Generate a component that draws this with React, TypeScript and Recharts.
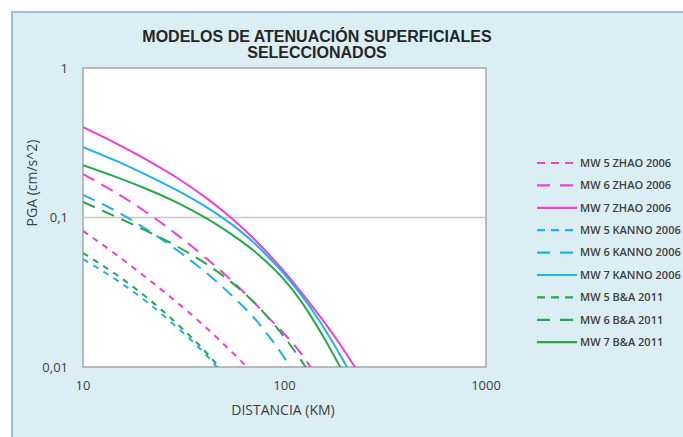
import React from "react";
import {
	Legend,
	Line,
	LineChart,
	ReferenceArea,
	ReferenceLine,
	XAxis,
	YAxis,
} from "recharts";

// distancias (km) compartidas por todas las curvas
const DIST = [10, 15, 20, 30, 40, 50, 60, 70, 80, 100, 120, 150, 200, 250];

// PGA (null = fuera del rango)
const ZHAO_5 = [0.0813, 0.055, 0.0408, 0.0263, 0.0188, 0.0142, 0.01117, 0.00898, null, null, null, null, null, null];
const ZHAO_6 = [0.195, 0.1429, 0.1114, 0.0748, 0.0547, 0.0422, 0.0336, 0.0274, 0.0226, 0.0166, 0.01245, 0.00794, null, null];
const ZHAO_7 = [0.4027, 0.3076, 0.2495, 0.1803, 0.138, 0.1094, 0.0883, 0.0726, 0.0604, 0.0432, 0.0321, 0.0218, 0.0126, 0.00785];
const KANNO_5 = [0.0527, 0.0374, 0.0283, 0.0179, 0.0124, 0.00881, null, null, null, null, null, null, null, null];
const KANNO_6 = [0.1416, 0.1081, 0.0857, 0.059, 0.0437, 0.0337, 0.0267, 0.0216, 0.0174, 0.0115, 0.00782, null, null, null];
const KANNO_7 = [0.2958, 0.2355, 0.1968, 0.1493, 0.1197, 0.0982, 0.0817, 0.0684, 0.0575, 0.0417, 0.0308, 0.0201, 0.0105, 0.006];
const BA_5 = [0.0579, 0.0405, 0.0303, 0.0189, 0.0129, 0.00916, null, null, null, null, null, null, null, null];
const BA_6 = [0.1271, 0.0993, 0.083, 0.063, 0.0499, 0.0404, 0.0331, 0.0273, 0.0226, 0.0158, 0.01125, 0.00702, null, null];
const BA_7 = [0.2239, 0.1841, 0.1581, 0.1239, 0.1005, 0.0836, 0.0706, 0.0603, 0.0515, 0.0381, 0.0279, 0.0174, 0.00867, null];

const X_TICKS = [10, 100, 1000];
const Y_TICKS = [0.01, 0.1, 1];

const MAGENTA = "#f23fd2";
const CYAN = "#1fb1ee";
const GREEN = "#26a84a";
const SHORT = "6 6";
const LONG = "13 8";

const SERIES = [
	{ key: "z5", name: "MW 5 ZHAO 2006", values: ZHAO_5, color: MAGENTA, dash: SHORT },
	{ key: "z6", name: "MW 6 ZHAO 2006", values: ZHAO_6, color: MAGENTA, dash: LONG },
	{ key: "z7", name: "MW 7 ZHAO 2006", values: ZHAO_7, color: MAGENTA, dash: undefined },
	{ key: "k5", name: "MW 5 KANNO 2006", values: KANNO_5, color: CYAN, dash: SHORT },
	{ key: "k6", name: "MW 6 KANNO 2006", values: KANNO_6, color: CYAN, dash: LONG },
	{ key: "k7", name: "MW 7 KANNO 2006", values: KANNO_7, color: CYAN, dash: undefined },
	{ key: "b5", name: "MW 5 B&A 2011", values: BA_5, color: GREEN, dash: SHORT },
	{ key: "b6", name: "MW 6 B&A 2011", values: BA_6, color: GREEN, dash: LONG },
	{ key: "b7", name: "MW 7 B&A 2011", values: BA_7, color: GREEN, dash: undefined },
];

const data = DIST.map((d, i) => {
	const row: Record<string, number | null> = { d };
	for (const s of SERIES) row[s.key] = s.values[i];
	return row;
});

const fmt = (v: number) => String(v).replace(".", ",");

const FONT = "'Open Sans', sans-serif";
const TEXT = "#404040";

function LegendBox() {
	return (
		<svg width={153} height={210}>
			{SERIES.map((s, i) => {
				const y = 13 + i * 22.4;
				return (
					<g key={s.key}>
						<line x1={7} x2={47} y1={y} y2={y} stroke={s.color} strokeWidth={2.2} strokeDasharray={s.dash === SHORT ? "8 6" : s.dash === LONG ? "13 10" : undefined} />
						<text x={50} y={y} dy="0.35em" fontSize={11} fontWeight={600} fill={TEXT} fontFamily={FONT}>
							{s.name}
						</text>
					</g>
				);
			})}
		</svg>
	);
}

export default function App() {
	return (
		<div style={{ position: "absolute", left: 0, top: 0, width: 683, height: 437, overflow: "hidden", background: "#fff" }}>
			<div
				style={{
					position: "absolute",
					left: 11,
					top: 11,
					width: 672,
					height: 426,
					boxSizing: "border-box",
					background: "#dbeef4",
					borderLeft: "2px solid #9dbfe3",
					borderTop: "2px solid #9dbfe3",
				}}
			/>
			<div
				style={{
					position: "absolute",
					left: 0,
					top: 29,
					width: 634,
					textAlign: "center",
					fontFamily: "'Liberation Sans', Arial, sans-serif",
					fontWeight: 700,
					fontSize: 16,
					lineHeight: "16px",
					color: "#262626",
				}}
			>
				MODELOS DE ATENUACIÓN SUPERFICIALES
				<br />
				SELECCIONADOS
			</div>
			<div
				style={{
					position: "absolute",
					left: 183,
					top: 400,
					width: 200,
					textAlign: "center",
					fontFamily: FONT,
					fontSize: 14,
					color: TEXT,
				}}
			>
				DISTANCIA (KM)
			</div>
			<div
				style={{
					position: "absolute",
					left: 32 - 60,
					top: 183 - 10,
					width: 120,
					height: 20,
					lineHeight: "20px",
					textAlign: "center",
					transform: "rotate(-90deg)",
					fontFamily: FONT,
					fontSize: 14,
					color: TEXT,
				}}
			>
				PGA (cm/s^2)
			</div>
			<div style={{ position: "absolute", left: 0, top: 0 }}>
				<LineChart width={683} height={437} data={data} margin={{ top: 68, right: 197, bottom: 40, left: 43 }}>
					<ReferenceArea x1={10} x2={1000} y1={0.01} y2={1} fill="#ffffff" fillOpacity={1} stroke="#a6a6a6" strokeWidth={1.5} />
					<ReferenceLine y={0.1} stroke="#c8c8c8" strokeWidth={1.5} />
					<XAxis
						dataKey="d"
						type="number"
						scale="log"
						domain={[10, 1000]}
						ticks={X_TICKS}
						interval={0}
						allowDataOverflow
						height={30}
						axisLine={false}
						tickLine={false}
						tickMargin={8}
						tick={{ fontSize: 13, fill: TEXT, fontFamily: FONT }}
					/>
					<YAxis
						type="number"
						scale="log"
						domain={[0.01, 1]}
						ticks={Y_TICKS}
						interval={0}
						allowDataOverflow
						width={40}
						axisLine={false}
						tickLine={false}
						tickMargin={9}
						tickFormatter={fmt}
						tick={{ fontSize: 13, fill: TEXT, fontFamily: FONT }}
					/>
					<Legend
						layout="vertical"
						align="center"
						verticalAlign="middle"
						wrapperStyle={{ left: 530, top: 150, width: 153, height: 210 }}
						content={() => <LegendBox />}
					/>
					{SERIES.map((s) => (
						<Line
							key={s.key}
							dataKey={s.key}
							name={s.name}
							type="monotone"
							stroke={s.color}
							strokeWidth={2}
							strokeDasharray={s.dash}
							dot={false}
							activeDot={false}
							connectNulls={false}
							isAnimationActive={false}
						/>
					))}
				</LineChart>
			</div>
		</div>
	);
}
